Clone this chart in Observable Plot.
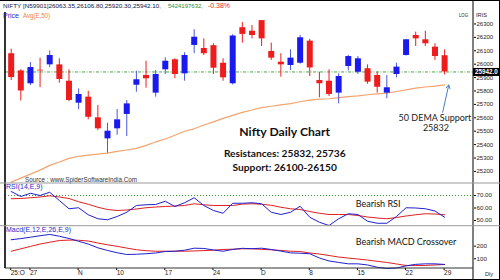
<!DOCTYPE html>
<html><head><meta charset="utf-8">
<script src="https://cdn.jsdelivr.net/npm/d3@7"></script>
<script src="https://cdn.jsdelivr.net/npm/@observablehq/plot@0.6"></script>
<style>
body{margin:0;background:#fff;}
#wrap{position:relative;width:500px;height:280px;overflow:hidden;background:#fff;}
#wrap > svg{position:absolute;left:0;}
</style></head><body><div id="wrap"></div>
<script>
// ---- data ----
const dates = ["Oct 23","Oct 24","Oct 27","Oct 28","Oct 29","Oct 30","Oct 31","Nov 3","Nov 4","Nov 6","Nov 7","Nov 10","Nov 11","Nov 12","Nov 13","Nov 14","Nov 17","Nov 18","Nov 19","Nov 20","Nov 21","Nov 24","Nov 25","Nov 26","Nov 27","Nov 28","Dec 1","Dec 2","Dec 3","Dec 4","Dec 5","Dec 8","Dec 9","Dec 10","Dec 11","Dec 12","Dec 15","Dec 16","Dec 17","Dec 18","Dec 19","Dec 22","Dec 23","Dec 24","Dec 26","Dec 29"];
const openP  = [26078,25950,25854,25955,25995,25995,25873,25709,25754,25600,25443,25518,25625,25843,25916,25784,25958,26033,25928,26140,26117,26138,26007,25854,26272,26246,26325,26095,26015,25990,26007,26172,25878,25873,25784,25983,25940,25966,25916,25784,25923,26065,26214,26182,26127,26063];
const highP  = [26112,25958,26012,26045,26100,26040,25958,25816,25798,25692,25560,25662,25729,25948,26022,25953,26048,26040,26085,26257,26189,26152,26040,26220,26310,26289,26325,26157,26078,26107,26214,26185,25940,25958,25928,26065,26057,25995,25940,25916,26007,26185,26239,26246,26152,26107];
const lowP   = [25878,25725,25840,25825,25975,25858,25720,25660,25585,25505,25336,25470,25460,25791,25821,25754,25923,25891,25873,26078,26065,25923,25873,25845,26157,26189,26132,26028,25903,25953,26000,25908,25749,25759,25704,25950,25923,25851,25784,25742,25898,26060,26132,26132,26028,25920];
const closeP = [25900,25800,25975,25950,26065,25886,25729,25774,25604,25518,25500,25585,25704,25884,25891,25923,26022,25923,26065,26201,26078,25970,25898,26210,26222,26214,26189,26045,25995,26045,26197,25972,25854,25774,25908,26057,26040,25866,25828,25824,25978,26182,26189,26152,26057,25942];
const ema50  = [25120,25150,25180,25210,25245,25270,25297,25313,25322,25329,25336,25349,25360,25372,25394,25420,25442,25470,25500,25518,25546,25570,25596,25618,25640,25658,25676,25686,25696,25706,25720,25732,25740,25742,25750,25758,25764,25772,25779,25784,25796,25808,25822,25830,25836,25845];
const rsi    = [73.2,69.2,71.8,70,72.6,66,59.4,60.2,54.6,51.4,50.6,53.2,56.6,62,62.6,62.8,65.4,61.2,64.2,68.2,62,58,55.8,63.8,63.8,64.2,63.4,56.6,54.8,56.6,61.4,52.6,48.6,46,51.4,55.4,54.8,49.4,47.8,47.8,53.2,60.2,60,59.4,57.6,52.6];
const rsiSig = [67.4,67.6,68.2,68.8,69.8,68.8,67.6,65,63,60.6,58.8,58,58.4,59.2,60.2,60.8,61.2,61.6,62,63.4,62.6,62,62,62,63.1,63.4,63,62.2,60.6,59.4,58.8,57.2,55.8,54.8,54.8,54.8,54,52.8,52,51.4,52.4,53.6,54.6,55.4,55.2,54.6];
const macd   = [251,260,271,283,293,279,261,239,217,187,166,148,134,136,140,146,158,160,168,184,182,170,160,174,183,180,184,174,161,147,144,140,106,83,71,60,60,51,33,23,27,44,56,60,60,55];
const macdSig= [160,179,198,217,231,245,248,247,241,225,211,199,185,172,164,160,160,160,160,162,165,168,174,176,179,179,175,171,166,160,158,146,138,126,114,106,98,90,80,71,59,47,47,47,51,55];
const priceTicks = [26300,26200,26100,26000,25900,25800,25700,25600,25500,25400,25300,25200];
const rsiTicks = [50,60,70];
const macdTicks = [100,200];
const dateTickIdx = [0,2,7,11,16,21,26,31,36,41,45];
const dateTickLabels = ["25:O","27","N","10","17","24","D","8","15","22","29"];
const header = "NIFTY [N59901]26063.35,26106.80,25920.30,25942.10,";
const volumeText = "5424197632,";
const changeText = "-0.38%";

// ---- colours ----
const BLUE = "#1a1aee", WICKB = "#4a5ad8", RED = "#ee1c1c";
const candles = dates.map((d,i)=>({i, o:openP[i], h:highP[i], l:lowP[i], c:closeP[i], up: closeP[i] >= openP[i]}));
const lastClose = closeP[closeP.length-1];

const wrap = document.getElementById("wrap");
const FONT = "Liberation Sans, Arial, sans-serif";
const common = {width: 500, marginLeft: 5, marginRight: 27,
  style: {background: "transparent", overflow: "visible", fontFamily: FONT}};
const xOpt = {domain: [-0.59, 48.0], axis: null, label: null};

// ---- main price panel ----
const main = Plot.plot({
  ...common, height: 183, marginTop: 0, marginBottom: 0,
  x: xOpt,
  y: {domain: [25110, 26475], label: null},
  marks: [
    Plot.ruleY([lastClose], {stroke: "#3a9a3a", strokeDasharray: "3,1.5,1,1.5", strokeWidth: 0.9}),
    Plot.lineY(ema50, {x: (d,i)=>i, y: d=>d, stroke: "#f3a46e", strokeWidth: 1.2}),
    Plot.ruleX(candles, {x: "i", y1: "l", y2: "h", stroke: d => d.up ? WICKB : RED, strokeWidth: 1}),
    Plot.ruleX(candles, {x: "i", y1: "o", y2: "c", stroke: d => d.up ? BLUE : RED, strokeWidth: 6}),
    Plot.axisY({anchor: "right", ticks: priceTicks, tickFormat: d => String(d), tickSize: 2, tickPadding: 1, fontSize: 6, fill: "#222", label: null}),
    Plot.ruleY([lastClose], {insetLeft: 468, insetRight: -27, stroke: "#000", strokeWidth: 8}),
    Plot.text([lastClose], {y: d => d, frameAnchor: "right", textAnchor: "start", dx: 1.5, dy: -0.4, text: d => d.toFixed(1), fill: "#fff", fontSize: 6.3, fontWeight: "bold"}),
    Plot.text(["Nifty Daily Chart"], {x: 28.4, y: 25493, text: d => d, fontFamily: "Lato", fontWeight: "bold", fontSize: 12.2, fill: "#111"}),
    Plot.text(["Resistances: 25832, 25736"], {x: 28.4, y: 25331, text: d => d, fontFamily: "Lato", fontWeight: "bold", fontSize: 10.2, fill: "#111"}),
    Plot.text(["Support: 26100-26150"], {x: 28.4, y: 25231, text: d => d, fontFamily: "Lato", fontWeight: "bold", fontSize: 10.2, fill: "#111"}),
    Plot.text(["Source : www.SpiderSoftwareIndia.Com"], {x: 7.25, y: 25140, text: d => d, fontSize: 6.3, fill: "#333"}),
    Plot.text(["50 DEMA Support"], {x: 44.0, y: 25600, text: d => d, fontFamily: "Lato", fontSize: 9, fill: "#222"}),
    Plot.text(["25832"], {x: 44.1, y: 25522, text: d => d, fontFamily: "Lato", fontSize: 9, fill: "#222"}),
    Plot.arrow([{x1: 44.8, y1: 25642, x2: 45.43, y2: 25845}], {x1: "x1", y1: "y1", x2: "x2", y2: "y2", stroke: "#4a80c0", strokeWidth: 1, headLength: 6})
  ]
});
main.style.top = "0px";
wrap.appendChild(main);

// ---- RSI panel ----
const rsiPlot = Plot.plot({
  ...common, height: 43, marginTop: 0, marginBottom: 0,
  x: xOpt,
  y: {domain: [45.2, 79.6], label: null},
  marks: [
    Plot.ruleY([70], {stroke: "#3a9a3a", strokeDasharray: "1,2"}),
    Plot.lineY(rsiSig, {x: (d,i)=>i, y: d=>d, stroke: "#e02020", strokeWidth: 1}),
    Plot.lineY(rsi, {x: (d,i)=>i, y: d=>d, stroke: "#2020d0", strokeWidth: 1}),
    Plot.axisY({anchor: "right", ticks: rsiTicks, tickFormat: d => d.toFixed(2), tickSize: 2, tickPadding: 1, fontSize: 6.2, fill: "#222", label: null}),
    Plot.text(["RSI(14,E,9)"], {frameAnchor: "top-left", text: d => d, dy: 0.5, dx: 0.5, fontSize: 7, fill: "#2a2ad0"}),
    Plot.text(["Bearish RSI"], {x: 38.1, y: 62.8, text: d => d, fontFamily: "Lato", fontSize: 9, fill: "#111"})
  ]
});
rsiPlot.style.top = "183px";
wrap.appendChild(rsiPlot);

// ---- MACD panel + date axis ----
const macdPlot = Plot.plot({
  ...common, height: 54, marginTop: 0, marginBottom: 12,
  x: {domain: [-0.59, 48.0], label: null},
  y: {domain: [23, 356], label: null},
  marks: [
    Plot.lineY(macdSig, {x: (d,i)=>i, y: d=>d, stroke: "#e02020", strokeWidth: 1}),
    Plot.lineY(macd, {x: (d,i)=>i, y: d=>d, stroke: "#2020d0", strokeWidth: 1}),
    Plot.axisY({anchor: "right", ticks: macdTicks, tickFormat: d => String(d), tickSize: 2, tickPadding: 1, fontSize: 6.2, fill: "#222", label: null}),
    Plot.axisX({anchor: "bottom", ticks: dateTickIdx, tickFormat: d => dateTickLabels[dateTickIdx.indexOf(d)], tickSize: 2, tickPadding: 0, textAnchor: "start", dx: -0.5, fontSize: 6.5, fill: "#222", label: null}),
    Plot.text(["Macd(E,12,E,26,E,9)"], {frameAnchor: "top-left", text: d => d, dy: 0.5, dx: 0.5, fontSize: 7, fill: "#2a2ad0"}),
    Plot.text(["Bearish MACD Crossover"], {x: 41.0, y: 232, text: d => d, fontFamily: "Lato", fontSize: 9, fill: "#111"})
  ]
});
macdPlot.style.top = "226px";
wrap.appendChild(macdPlot);

// ---- frame lines & header texts ----
const NS = "http://www.w3.org/2000/svg";
const ov = document.createElementNS(NS, "svg");
ov.setAttribute("width", 500); ov.setAttribute("height", 280);
ov.style.top = "0px"; ov.style.pointerEvents = "none";
function line(x1,y1,x2,y2,stroke,w){const l=document.createElementNS(NS,"line");
  l.setAttribute("x1",x1);l.setAttribute("y1",y1);l.setAttribute("x2",x2);l.setAttribute("y2",y2);
  l.setAttribute("stroke",stroke);l.setAttribute("stroke-width",w);ov.appendChild(l);}
function txt(s,x,y,fill,size,len){const t=document.createElementNS(NS,"text");
  t.textContent=s;t.setAttribute("x",x);t.setAttribute("y",y);t.setAttribute("fill",fill);
  t.setAttribute("font-size",size);t.setAttribute("font-family","Liberation Sans, Arial, sans-serif");
  if(len){t.setAttribute("textLength",len);t.setAttribute("lengthAdjust","spacingAndGlyphs");}
  ov.appendChild(t);}
line(0,0.5,500,0.5,"#000",1);
line(499.5,0,499.5,280,"#000",1);
line(0,279.5,500,279.5,"#000",1);
line(5,12,5,268,"#000",1.6);
line(473,0,473,280,"#000",1);
line(0,183,500,183,"#999",1);
line(0,225.7,500,225.7,"#999",1);
line(5,268,473,268,"#333",1);
txt(header,3,7.6,"#101040",6.2,158);
txt(volumeText,168,7.6,"#2e8b2e",6,35);
txt(changeText,208,7.6,"#e03030",6.6,22);
txt("Price",3,17.5,"#2a2ad0",6.6,16);
txt("Avg(E,50)",23,17.5,"#f08040",6.6,27);
txt("LOG",459,17.3,"#222",6.2,9);
txt("IRIS",476,17.3,"#222",6.2,11);
txt("Dly",485,276,"#222",6.2,8);
wrap.appendChild(ov);
</script></body></html>
